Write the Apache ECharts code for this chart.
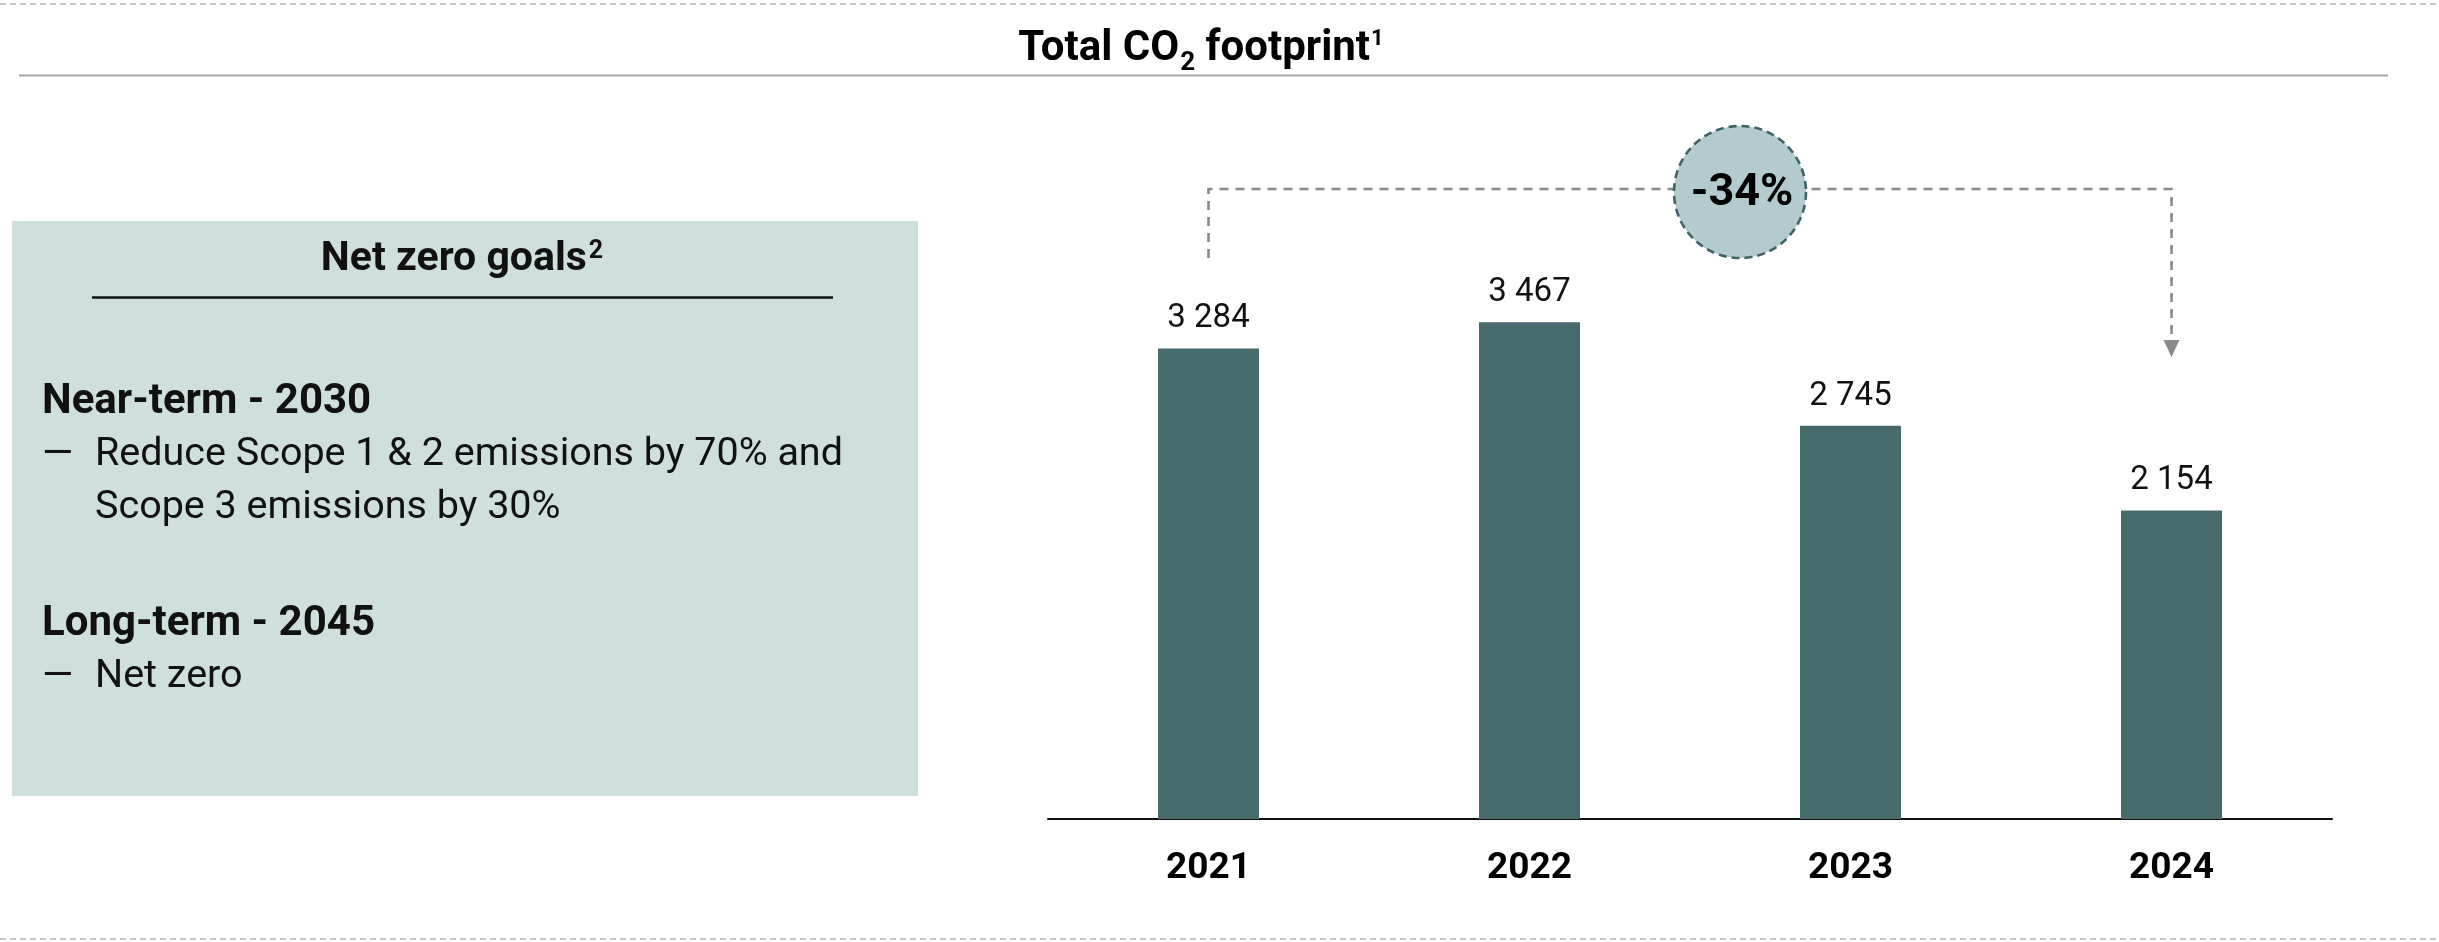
<!DOCTYPE html>
<html>
<head>
<meta charset="utf-8">
<script src="https://cdn.jsdelivr.net/npm/echarts@6/dist/echarts.min.js"></script>
<style>
  html, body { margin: 0; padding: 0; background: #ffffff; }
  #chart { width: 2439px; height: 942px; }
</style>
</head>
<body>
<div id="chart"></div>
<script>
// Emissions data (thousand tonnes CO2e)
const years = ['2021', '2022', '2023', '2024'];
const footprint = [3284, 3467, 2745, 2154];
const yAxisMax = 4000;

// Side panel text
const goalsTitle = 'Net zero goals';
const nearTermHeading = 'Near-term - 2030';
const nearTermLines = ['Reduce Scope 1 & 2 emissions by 70% and', 'Scope 3 emissions by 30%'];
const longTermHeading = 'Long-term - 2045';
const longTermLines = ['Net zero'];

const FONT = 'Roboto, "Liberation Sans", Arial, sans-serif';
const BAR_COLOR = '#476a6d';
const PANEL_COLOR = '#cedfde';

// "3284" -> "3 284"
const groupThousands = v => String(v).replace(/\B(?=(\d{3})+(?!\d))/g, ' ');

const chart = echarts.init(document.getElementById('chart'), null, { renderer: 'canvas' });

chart.setOption({
  animation: false,
  backgroundColor: '#ffffff',
  grid: { left: 1048, right: 107, top: 246, bottom: 123 },
  xAxis: {
    type: 'category',
    data: years,
    axisTick: { show: false },
    axisLine: { show: true, lineStyle: { color: '#111111', width: 2 } },
    axisLabel: {
      color: '#000000', fontFamily: FONT, fontWeight: 'bold', fontSize: 37, margin: 31
    }
  },
  yAxis: {
    type: 'value', min: 0, max: yAxisMax, show: false,
    splitLine: { show: false }
  },
  series: [{
    type: 'bar',
    data: footprint,
    barWidth: 101,
    itemStyle: { color: BAR_COLOR },
    label: {
      show: true, position: 'top', distance: 13,
      color: '#111111', fontFamily: FONT, fontSize: 33,
      formatter: p => groupThousands(p.value)
    }
  }]
});

// Overlay: page frame, title, goals panel and change bracket
function buildGraphics() {
  const xFirst = chart.convertToPixel({ xAxisIndex: 0 }, years[0]);
  const xLast = chart.convertToPixel({ xAxisIndex: 0 }, years[years.length - 1]);
  const first = footprint[0];
  const last = footprint[footprint.length - 1];
  const change = Math.round((last - first) / first * 100);

  const bracketY = 189;
  const bracketStyle = { stroke: '#8a8a8a', lineWidth: 2.6, lineDash: [9, 7], fill: null };
  const arrowTip = 357;

  const txt = (x, y, text, opts) => ({
    type: 'text', x: x, y: y, z: 10,
    style: Object.assign({
      text: text, fill: '#111111', fontFamily: FONT, fontSize: 39.5,
      align: 'left', verticalAlign: 'middle'
    }, opts || {})
  });

  const elements = [
    // dashed page frame lines
    { type: 'line', shape: { x1: 0, y1: 4, x2: 2439, y2: 4 },
      style: { stroke: '#c4c4c4', lineWidth: 2, lineDash: [6, 4] } },
    { type: 'line', shape: { x1: 0, y1: 939, x2: 2439, y2: 939 },
      style: { stroke: '#c4c4c4', lineWidth: 2, lineDash: [6, 4] } },

    // title and rule
    {
      type: 'text', x: 1201, y: 53, z: 10,
      style: {
        text: '{b|Total CO}{sub|2}{b| footprint}{sup|1}',
        align: 'center', verticalAlign: 'middle',
        rich: {
          b: { fontFamily: FONT, fontWeight: 'bold', fontSize: 42, lineHeight: 50, fill: '#000', verticalAlign: 'top' },
          sub: { fontFamily: FONT, fontWeight: 'bold', fontSize: 26, lineHeight: 26, padding: [22, 0, 0, 1], fill: '#000', verticalAlign: 'top' },
          sup: { fontFamily: FONT, fontWeight: 'bold', fontSize: 22, lineHeight: 22, padding: [0, 0, 0, 1], fill: '#000', verticalAlign: 'top' }
        }
      }
    },
    { type: 'line', shape: { x1: 19, y1: 75.5, x2: 2388, y2: 75.5 },
      style: { stroke: '#a6a6a6', lineWidth: 2 } },

    // goals panel
    { type: 'rect', shape: { x: 12, y: 221, width: 906, height: 575 },
      style: { fill: PANEL_COLOR } },
    {
      type: 'text', x: 462, y: 262, z: 10,
      style: {
        text: '{b|' + goalsTitle + '}{sup|2}',
        align: 'center', verticalAlign: 'middle',
        rich: {
          b: { fontFamily: FONT, fontWeight: 'bold', fontSize: 41, lineHeight: 46, fill: '#111', verticalAlign: 'top' },
          sup: { fontFamily: FONT, fontWeight: 'bold', fontSize: 25, lineHeight: 25, padding: [0, 0, 0, 2], fill: '#111', verticalAlign: 'top' }
        }
      }
    },
    { type: 'line', shape: { x1: 92, y1: 297.5, x2: 833, y2: 297.5 },
      style: { stroke: '#111111', lineWidth: 2.5 } },

    txt(42, 402, nearTermHeading, { fontWeight: 'bold', fontSize: 42 }),
    txt(42, 456, '\u2014', { fontSize: 40 }),
    txt(95, 455, nearTermLines[0]),
    txt(95, 508, nearTermLines[1]),
    txt(42, 624, longTermHeading, { fontWeight: 'bold', fontSize: 42 }),
    txt(42, 678, '\u2014', { fontSize: 40 }),
    txt(95, 677, longTermLines[0]),

    // change bracket from first to last year
    { type: 'polyline', z: 5,
      shape: { points: [[xFirst, 258], [xFirst, bracketY], [xLast, bracketY], [xLast, arrowTip - 16]] },
      style: bracketStyle },
    { type: 'polygon', z: 5,
      shape: { points: [[xLast - 8, arrowTip - 17], [xLast + 8, arrowTip - 17], [xLast, arrowTip]] },
      style: { fill: '#8a8a8a' } },

    // change badge
    { type: 'circle', z: 8, shape: { cx: 1740, cy: 192, r: 66 },
      style: { fill: '#b3cbcf', stroke: '#3e6466', lineWidth: 2.6, lineDash: [8, 5] } },
    txt(1742, 194, change + '%', { align: 'center', fontWeight: 'bold', fontSize: 45, fill: '#000' })
  ];
  return elements;
}

chart.setOption({ graphic: buildGraphics() });
</script>
</body>
</html>
